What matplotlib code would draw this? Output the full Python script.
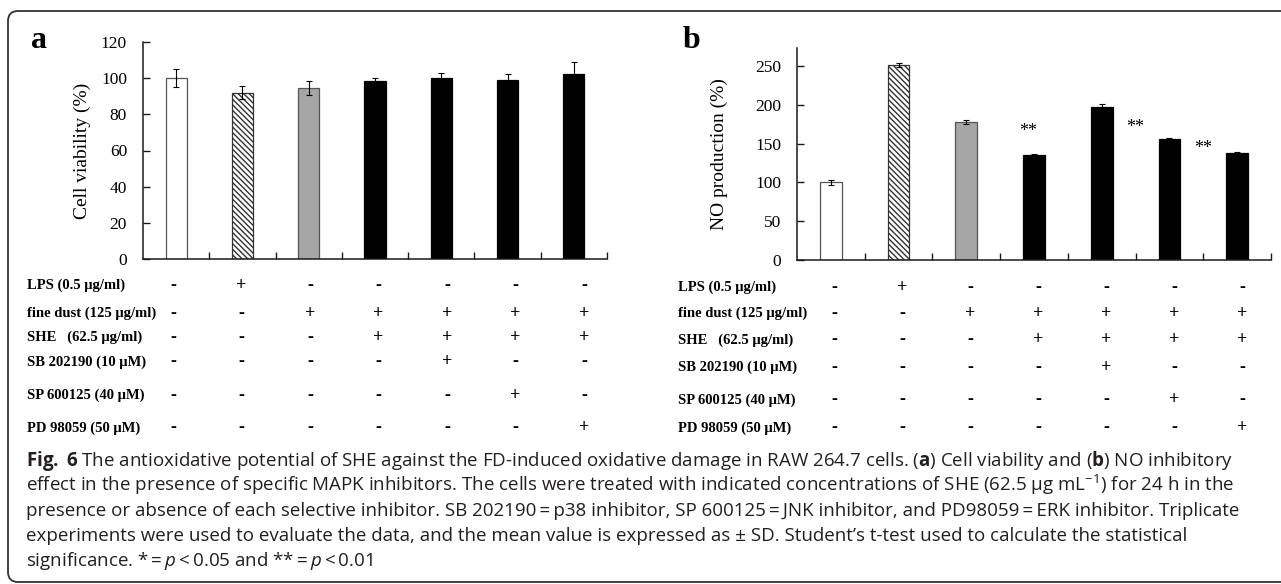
import numpy as np
import matplotlib
matplotlib.use("Agg")
import matplotlib.pyplot as plt
from matplotlib.patches import FancyBboxPatch
from matplotlib.transforms import IdentityTransform

# (a) cell viability (%)
viability = [100, 92, 94.7, 98.5, 100, 99, 102.5]
viability_err = [5, 3.7, 3.8, 1.6, 3, 3.5, 6.5]

# (b) NO production (%)
no_prod = [100, 251, 178, 135, 197, 156, 138]
no_prod_err = [3.5, 2.5, 2.5, 1, 3.5, 1, 0.5]

conditions = ["LPS (0.5 \u03bcg/ml)", "fine dust (125 \u03bcg/ml)", "SHE   (62.5 \u03bcg/ml)",
              "SB 202190 (10 \u03bcM)", "SP 600125 (40 \u03bcM)", "PD 98059 (50 \u03bcM)"]
treatments = [
    "-+-----",
    "--+++++",
    "---++++",
    "----+--",
    "-----+-",
    "------+",
]

caption = [
    r"$\mathbf{Fig.}$ $\mathbf{6}$ The antioxidative potential of SHE against the FD-induced oxidative damage in RAW 264.7 cells. ($\mathbf{a}$) Cell viability and ($\mathbf{b}$) NO inhibitory",
    "effect in the presence of specific MAPK inhibitors. The cells were treated with indicated concentrations of SHE (62.5 \u03bcg mL$^{-1}$) for 24 h in the",
    "presence or absence of each selective inhibitor. SB 202190\u2009=\u2009p38 inhibitor, SP 600125\u2009=\u2009JNK inhibitor, and PD98059\u2009=\u2009ERK inhibitor. Triplicate",
    "experiments were used to evaluate the data, and the mean value is expressed as \u00b1 SD. Student\u2019s t-test used to calculate the statistical",
    "significance. *\u2009=\u2009$p$\u2009<\u20090.05 and **\u2009=\u2009$p$\u2009<\u20090.01",
]

plt.rcParams["mathtext.fontset"] = "custom"
plt.rcParams["mathtext.rm"] = "Open Sans"
plt.rcParams["mathtext.bf"] = "Open Sans:bold"
plt.rcParams["mathtext.it"] = "Open Sans:italic"

W, H = 1281, 584
SERIF = "Liberation Serif"
fig = plt.figure(figsize=(W / 100, H / 100), dpi=100)


def fx(px):
    return px / W


def fy(py):
    return 1 - py / H


bar_colors = ["white", "white", "#a6a6a6", "black", "black", "black", "black"]
edge_colors = ["#555555", "#333333", "#555555", "black", "black", "black", "black"]
hatches = [None, "\\\\\\\\\\\\", None, None, None, None, None]
x = np.arange(7)

# pixel boxes of the two plots: left, top, right, bottom
boxes = {"a": (143, 42, 607, 259), "b": (797, 48, 1271, 260)}
axs = {}
for key, vals, errs, ymax, step, ylabel in [
    ("a", viability, viability_err, 120, 20, "Cell viability (%)"),
    ("b", no_prod, no_prod_err, 273, 50, "NO production (%)"),
]:
    l, t, r, b = boxes[key]
    ax = fig.add_axes([fx(l), fy(b), (r - l) / W, (b - t) / H])
    axs[key] = ax
    for i in range(7):
        ax.bar(x[i], vals[i], width=0.32, color=bar_colors[i], edgecolor=edge_colors[i],
               hatch=hatches[i], linewidth=0.9, zorder=2)
    ax.errorbar(x, vals, yerr=errs, fmt="none", ecolor="black", elinewidth=0.8,
                capsize=2.5, capthick=0.8, zorder=3)
    ax.set_xlim(-0.5, 6.5)
    ax.set_ylim(0, ymax)
    ax.set_yticks(np.arange(0, ymax + 1, step))
    ax.set_xticks(np.arange(0.5, 7, 1))
    ax.set_xticklabels([])
    ax.spines[["top", "right"]].set_visible(False)
    for s in ("left", "bottom"):
        ax.spines[s].set_color("#1a1a1a")
        ax.spines[s].set_linewidth(1.1)
    ax.tick_params(direction="in", length=5, width=1, color="#1a1a1a", pad=11.5)
    for lab in ax.get_yticklabels():
        lab.set_fontfamily(SERIF)
        lab.set_fontsize(12.5)
    ax.set_ylabel(ylabel, fontfamily=SERIF, fontsize=14)

axs["a"].yaxis.set_label_coords(-0.112, 0.5)
axs["b"].yaxis.set_label_coords(-0.145, 0.5)

# significance marks
for xs, ys in [(2.91, 166), (4.5, 170), (5.5, 144)]:
    axs["b"].text(xs, ys, "**", ha="center", va="center", fontfamily=SERIF, fontsize=13)

# panel letters
fig.text(fx(31), fy(48), "a", fontfamily=SERIF, fontweight="bold", fontsize=23, va="baseline")
fig.text(fx(683), fy(48), "b", fontfamily=SERIF, fontweight="bold", fontsize=23, va="baseline")

# treatment tables under the plots
table_rows = {"a": [285, 313, 337, 362, 395, 428], "b": [287, 313, 340, 367, 400, 428]}
label_x = {"a": 27, "b": 678}
sign_x = {"a": (173, 68.5), "b": (834, 68)}
for key in ("a", "b"):
    x0, dx = sign_x[key]
    for row, (cond, signs) in enumerate(zip(conditions, treatments)):
        yy = fy(table_rows[key][row])
        fig.text(fx(label_x[key]), yy, cond, fontfamily=SERIF, fontweight="bold",
                 fontsize=10.5, va="center", ha="left")
        for j, sg in enumerate(signs):
            fig.text(fx(x0 + j * dx), yy, sg, fontfamily=SERIF, fontweight="bold",
                     fontsize=13, va="center", ha="center")

# caption
cap_texts = []
for k, line in enumerate(caption):
    t = fig.text(fx(26), fy(466 + 25 * k), line, fontfamily="Open Sans", fontsize=11.5,
                 color="#231f20", va="baseline", ha="left")
    cap_texts.append(t)
fig.canvas.draw()
rend = fig.canvas.get_renderer()
w = max(t.get_window_extent(rend).width for t in cap_texts)
scale = (1240 - 26) / w
for t in cap_texts:
    t.set_fontsize(11.5 * scale)

# rounded frame around the figure
frame = FancyBboxPatch((8, 2), 1300, 571, boxstyle="round,pad=0,rounding_size=10",
                       transform=IdentityTransform(), fill=False, edgecolor="#333333",
                       linewidth=1.3)
fig.add_artist(frame)

fig.savefig("out.png", dpi=100)
